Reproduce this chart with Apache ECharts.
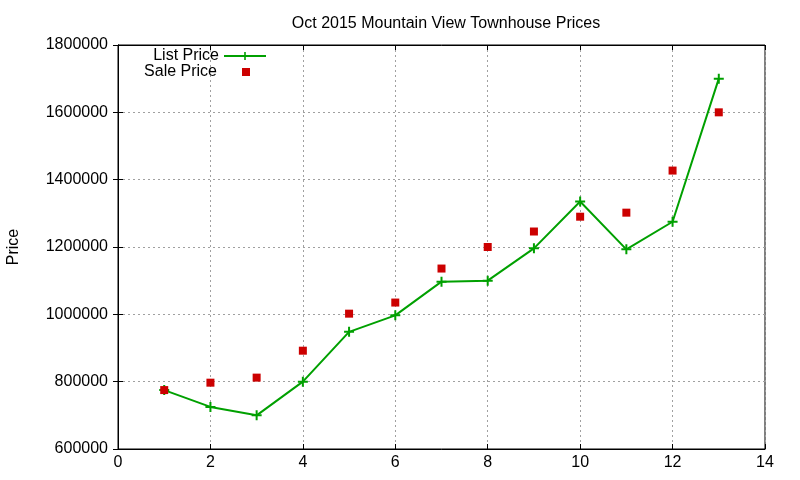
<!DOCTYPE html>
<html>
<head>
<meta charset="utf-8">
<style>html,body{margin:0;padding:0;background:#fff}#main{width:800px;height:480px}</style>
<script src="https://cdn.jsdelivr.net/npm/echarts@6/dist/echarts.min.js"></script>
</head>
<body>
<div id="main"></div>
<script>
// data
var months = [1, 2, 3, 4, 5, 6, 7, 8, 9, 10, 11, 12, 13];
var listPrice = [775000, 725000, 700000, 800000, 948000, 997000, 1097000, 1100000, 1196000, 1335000, 1193000, 1275000, 1700000];
var salePrice = [775000, 797000, 812000, 892000, 1002000, 1035000, 1136000, 1200000, 1246000, 1290000, 1302000, 1427000, 1600000];

var FONT = 'Liberation Sans';
var chart = echarts.init(document.getElementById('main'));

function pairs(xs, ys) {
  return xs.map(function (x, i) { return [x, ys[i]]; });
}

var gridLine = { show: true, lineStyle: { color: '#a0a0a0', type: [2, 3], width: 1 } };

var option = {
  animation: false,
  backgroundColor: '#fff',
  title: {
    text: 'Oct 2015 Mountain View Townhouse Prices',
    left: 441, top: 11, textAlign: 'center',
    textStyle: { fontFamily: FONT, fontSize: 16, fontWeight: 'normal', color: '#000' }
  },
  legend: [
    {
      data: ['List Price'], right: 533, top: 48, align: 'right', padding: 0,
      itemWidth: 42, itemHeight: 10,
      textStyle: { fontFamily: FONT, fontSize: 16, color: '#000' }
    },
    {
      data: ['Sale Price'], right: 550, top: 64, align: 'right', padding: 0,
      itemWidth: 8, itemHeight: 8, icon: 'rect',
      textStyle: { fontFamily: FONT, fontSize: 16, color: '#000', padding: [0, 20, 0, 0] }
    }
  ],
  grid: {
    left: 118, right: 35, top: 45, bottom: 31, outerBoundsMode: 'none', containLabel: false,
    show: true, borderColor: '#000', borderWidth: 1
  },
  xAxis: [
    {
      type: 'value', min: 0, max: 14, interval: 2,
      axisLine: { show: true, lineStyle: { color: '#000' } },
      axisTick: { inside: true, length: 5, lineStyle: { color: '#000' } },
      axisLabel: { fontFamily: FONT, fontSize: 16, color: '#000', margin: 6 },
      splitLine: gridLine
    },
    {
      type: 'value', position: 'top', min: 0, max: 14, interval: 2,
      axisLine: { show: true, lineStyle: { color: '#000' } },
      axisTick: { inside: true, length: 5, lineStyle: { color: '#000' } },
      axisLabel: { show: false }, splitLine: { show: false }
    }
  ],
  yAxis: [
    {
      type: 'value', min: 600000, max: 1800000, interval: 200000,
      name: 'Price', nameLocation: 'middle', nameGap: 96, nameRotate: 90,
      nameTextStyle: { fontFamily: FONT, fontSize: 16, color: '#000' },
      axisLine: { show: true, lineStyle: { color: '#000' } },
      axisTick: { inside: true, length: 5, lineStyle: { color: '#000' } },
      axisLabel: { fontFamily: FONT, fontSize: 16, color: '#000', margin: 10, formatter: function (v) { return String(v); } },
      splitLine: gridLine
    },
    {
      type: 'value', position: 'right', min: 600000, max: 1800000, interval: 200000,
      axisLine: { show: true, lineStyle: { color: '#000' } },
      axisTick: { inside: true, length: 5, lineStyle: { color: '#000' } },
      axisLabel: { show: false }, splitLine: { show: false }
    }
  ],
  series: [
    {
      name: 'List Price', type: 'line', z: 2,
      data: pairs(months, listPrice),
      symbol: 'path://M4,0h2v4h4v2h-4v4h-2v-4h-4v-2h4z', symbolSize: 10,
      itemStyle: { color: '#00a000' },
      lineStyle: { color: '#00a000', width: 2 }
    },
    {
      name: 'Sale Price', type: 'scatter', z: 5,
      data: pairs(months, salePrice),
      symbol: 'rect', symbolSize: 8,
      itemStyle: { color: '#cc0000', opacity: 1 }
    }
  ]
};

chart.setOption(option);
</script>
</body>
</html>
